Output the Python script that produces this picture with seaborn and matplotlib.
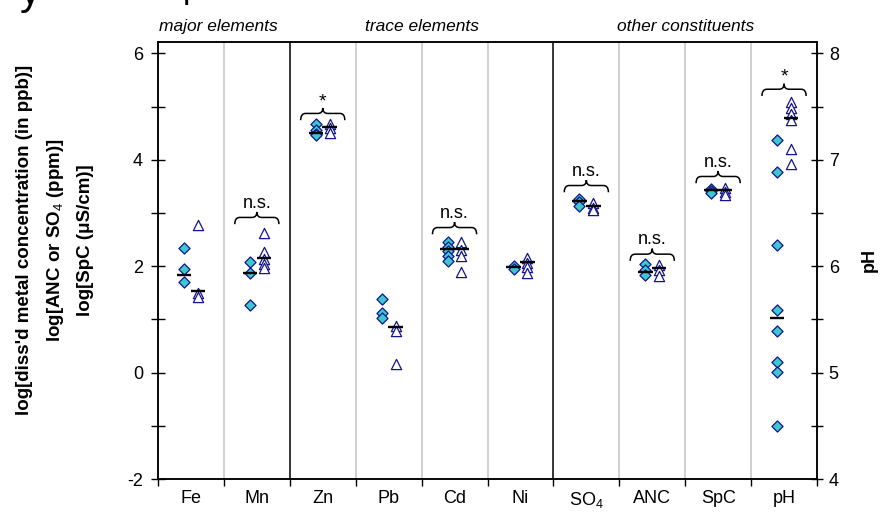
import numpy as np
import pandas as pd
import matplotlib
matplotlib.use("Agg")
import matplotlib.pyplot as plt
from matplotlib.path import Path
from matplotlib.patches import PathPatch
import seaborn as sns

# ---- data (log units; pH in pH units) ----
categories = ["Fe", "Mn", "Zn", "Pb", "Cd", "Ni", "SO$_4$", "ANC", "SpC", "pH"]

fe_a = [2.34, 1.94, 1.70]
fe_b = [2.77, 1.50, 1.43]
mn_a = [2.07, 1.87, 1.27]
mn_b = [2.63, 2.26, 2.14, 2.05, 1.96]
zn_a = [4.67, 4.56, 4.49, 4.46]
zn_b = [4.67, 4.59, 4.51]
pb_a = [1.39, 1.12, 1.02]
pb_b = [0.88, 0.78, 0.17]
cd_a = [2.46, 2.37, 2.28, 2.19, 2.10]
cd_b = [2.46, 2.30, 2.19, 1.90]
ni_a = [2.00, 1.94]
ni_b = [2.15, 2.06, 1.98, 1.88]
so4_a = [3.27, 3.21, 3.13]
so4_b = [3.18, 3.10, 3.05]
anc_a = [2.05, 1.93, 1.84]
anc_b = [2.02, 1.92, 1.82]
spc_a = [3.45, 3.41, 3.38]
spc_b = [3.47, 3.40, 3.33]
ph_a = [7.19, 6.89, 6.20, 5.59, 5.39, 5.10, 5.01, 4.50]
ph_b = [7.54, 7.49, 7.43, 7.37, 7.10, 6.96]

# central values drawn as short bars (nan = no bar)
center_a = [1.84, 1.87, 4.51, np.nan, 2.33, 1.98, 3.23, 1.90, 3.43, 5.51]
center_b = [1.54, 2.16, 4.62, 0.86, 2.33, 2.08, 3.13, 1.97, 3.43, 7.39]

# significance brackets: category index, bracket base level, label
sig_idx = [1, 2, 4, 6, 7, 8, 9]
sig_base = [2.79, 4.745, 2.60, 3.39, 2.10, 3.56, 7.60]
sig_text = ["n.s.", "*", "n.s.", "n.s.", "n.s.", "n.s.", "*"]

groups = ["major elements", "trace elements", "other constituents"]
group_center = [0.42, 3.5, 7.5]

# ---- styling ----
sns.set_theme(style="white")
plt.rcParams["font.family"] = ["Liberation Sans", "DejaVu Sans"]
plt.rcParams["mathtext.fontset"] = "custom"
plt.rcParams["mathtext.rm"] = "Liberation Sans"
plt.rcParams["mathtext.bf"] = "Liberation Sans:bold"
for key in ("text.color", "axes.labelcolor", "xtick.color", "ytick.color"):
    plt.rcParams[key] = "black"

FILL = "#3cc8cc"
EDGE = "#14148c"
OFF = 0.105

series_a = [fe_a, mn_a, zn_a, pb_a, cd_a, ni_a, so4_a, anc_a, spc_a, ph_a]
series_b = [fe_b, mn_b, zn_b, pb_b, cd_b, ni_b, so4_b, anc_b, spc_b, ph_b]

rows = []
for i, (va, vb) in enumerate(zip(series_a, series_b)):
    for v in va:
        rows.append((i, i - OFF, v, "A"))
    for v in vb:
        rows.append((i, i + OFF, v, "B"))
df = pd.DataFrame(rows, columns=["cat", "x", "value", "group"])
ph_i = len(categories) - 1
df_left = df[df["cat"] != ph_i]
df_ph = df[df["cat"] == ph_i]

fig = plt.figure(figsize=(8.86, 5.13), dpi=100)
ax = fig.add_axes([158 / 886, 1 - 479 / 513, (817 - 158) / 886, (479 - 41.7) / 513])
ax2 = ax.twinx()

ylo, yhi = -2, 6.22
ax.set_ylim(ylo, yhi)
ax2.set_ylim(5 + ylo / 2, 5 + yhi / 2)
ax.set_xlim(-0.5, len(categories) - 0.5)

# column separators
for b in np.arange(0.5, len(categories) - 0.5, 1.0):
    black = b in (1.5, 5.5)
    ax.axvline(b, color="black" if black else "#cfcfcf",
               lw=1.1 if black else 1.4, zorder=0)

markers = {"A": "D", "B": "^"}
palette = {"A": FILL, "B": "white"}
sizes = {"A": 32, "B": 54}
for data, axis in ((df_left, ax), (df_ph, ax2)):
    for g in ("A", "B"):
        sub = data[data["group"] == g]
        sns.scatterplot(data=sub, x="x", y="value", marker=markers[g],
                        color=palette[g], edgecolor=EDGE, linewidth=0.9,
                        s=sizes[g], legend=False, ax=axis, zorder=3)

# short bars for central values
for i in range(len(categories)):
    axis = ax2 if i == ph_i else ax
    for c, off in ((center_a[i], -OFF), (center_b[i], OFF)):
        if not np.isnan(c):
            axis.hlines(c, i + off - 0.11, i + off + 0.11, color="black",
                        lw=1.7, zorder=4)


def bracket(axis, xc, y0, h, half=0.335, c=0.075):
    ym = y0 + 0.55 * h
    yt = y0 + h
    xl, xr = xc - half, xc + half
    verts = [(xl, y0), (xl, ym), (xl + c, ym), (xc - c, ym), (xc, ym), (xc, yt),
             (xc, ym), (xc + c, ym), (xr - c, ym), (xr, ym), (xr, y0)]
    codes = [Path.MOVETO, Path.CURVE3, Path.CURVE3, Path.LINETO, Path.CURVE3,
             Path.CURVE3, Path.CURVE3, Path.CURVE3, Path.LINETO, Path.CURVE3,
             Path.CURVE3]
    axis.add_patch(PathPatch(Path(verts, codes), fill=False, lw=1.1,
                             color="black", zorder=4))
    return yt


for i, base, txt in zip(sig_idx, sig_base, sig_text):
    axis = ax2 if i == ph_i else ax
    h = 0.23 if axis is ax else 0.115
    top = bracket(axis, i, base, h)
    if txt == "*":
        axis.annotate(txt, (i, top), xytext=(0, -1.5), textcoords="offset points",
                      ha="center", va="bottom", fontsize=14)
    else:
        axis.annotate(txt, (i, top), xytext=(0, 3), textcoords="offset points",
                      ha="center", va="baseline", fontsize=13)

# group headings
for name, xc in zip(groups, group_center):
    ax.text(xc, 1.035, name, transform=ax.get_xaxis_transform(), ha="center",
            va="center", fontsize=12.5, style="italic")

# lower edges of the heading line above the panel
fig.text(20 / 886, 1 - 4 / 513, "y", fontsize=30, va="baseline", ha="left")
fig.text(183 / 886, 1 + 2 / 513, "p", fontsize=24, va="baseline", ha="left")

# axes, ticks, labels
ax.set_xticks(np.arange(-0.5, len(categories), 1.0))
ax.set_xticklabels([])
ax.set_xticks(np.arange(len(categories)), minor=True)
ax.set_xticklabels(categories, minor=True, fontsize=13)
ax.tick_params(axis="x", which="major", direction="out", length=5, width=1.0,
               color="black", bottom=True)
ax.tick_params(axis="x", which="minor", length=0, pad=8)

ax.set_yticks([-2, 0, 2, 4, 6])
ax.set_yticklabels(["-2", "0", "2", "4", "6"], fontsize=13)
ax.set_yticks([-1, 1, 3, 5], minor=True)
ax.tick_params(axis="y", which="both", direction="inout", length=9.5,
               width=1.0, color="black", left=True, pad=6)

ax2.set_yticks([4, 5, 6, 7, 8])
ax2.set_yticklabels(["4", "5", "6", "7", "8"], fontsize=13)
ax2.set_yticks([4.5, 5.5, 6.5, 7.5], minor=True)
ax2.tick_params(axis="y", which="both", direction="inout", length=9,
                width=1.0, color="black", right=True, pad=4)
ax2.grid(False)
ax.grid(False)

for a in (ax, ax2):
    for s in a.spines.values():
        s.set_color("black")
        s.set_linewidth(1.1)
ax.set_xlabel("")
ax2.set_xlabel("")

ax.set_ylabel("")
ax2.set_ylabel("pH", fontsize=13, fontweight="bold", labelpad=16)

ylines = ["log[diss'd metal concentration (in ppb)]",
          "log[ANC or SO$_4$ (ppm)]",
          "log[SpC (\u03bcS/cm)]"]
for xp, t in zip([25, 56, 86], ylines):
    fig.text(xp / 886, 1 - 240 / 513, t, rotation=90, ha="center", va="center",
             fontsize=13.5, fontweight="bold")

fig.savefig("out.png", dpi=100)
